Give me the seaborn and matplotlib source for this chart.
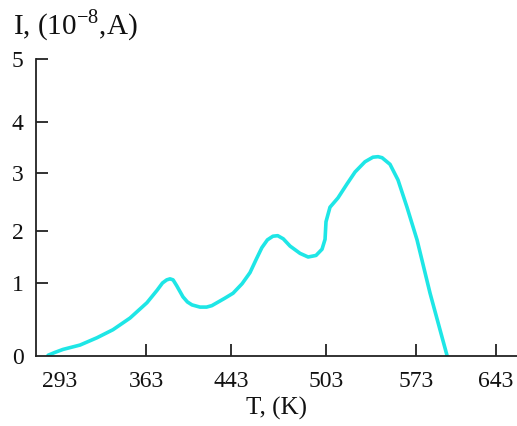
import numpy as np
import pandas as pd
import seaborn as sns
import matplotlib.pyplot as plt

# 数据：温度 T (K) 与电流 I (10^-8 A)
T = [283.3, 289.0, 295.4, 309.3, 323.1, 336.1, 350.0, 363.9, 373.4, 378.5,
     382.5, 385.6, 388.5, 392.0, 397.8, 402.0, 406.3, 413.8, 420.0, 425.0,
     429.8, 437.0, 444.3, 450.0, 455.0, 459.0, 462.5, 466.0, 469.5, 472.5,
     476.0, 480.3, 486.6, 491.7, 496.7, 500.5, 502.4, 503.0, 506.1, 512.3,
     519.3, 525.6, 533.3, 539.5, 543.5, 546.6, 552.8, 559.0, 566.0, 573.9,
     585.3, 594.0, 600.1]
I = [0.01, 0.05, 0.09, 0.15, 0.25, 0.36, 0.52, 0.73, 0.90, 1.00,
     1.06, 1.08, 1.06, 0.96, 0.81, 0.74, 0.70, 0.67, 0.67, 0.69,
     0.73, 0.79, 0.86, 0.99, 1.20, 1.46, 1.68, 1.83, 1.90, 1.91,
     1.85, 1.71, 1.57, 1.50, 1.53, 1.65, 1.84, 2.16, 2.41, 2.57,
     2.81, 3.02, 3.22, 3.31, 3.32, 3.30, 3.17, 2.88, 2.41, 1.83,
     0.86, 0.36, 0.01]

x_ticks = [293, 363, 443, 503, 573, 643]
y_ticks = [0, 1, 2, 3, 4, 5]

df = pd.DataFrame({'T': T, 'I': I})

# 原图坐标轴刻度不等距，用分段线性刻度还原
tx_knots = [273.5, 293, 363, 443, 503, 573, 643, 661]
px_knots = [0, 24, 110, 195, 290, 380, 460, 481]
iy_knots = [0, 1, 2, 3, 4, 5]
py_knots = [0, 73, 125, 183, 234, 297]

sns.set_style('white')
plt.rcParams['font.family'] = ['Liberation Serif', 'DejaVu Serif']
plt.rcParams['mathtext.fontset'] = 'custom'
plt.rcParams['mathtext.rm'] = 'Liberation Serif'

fig = plt.figure(figsize=(5.17, 4.26), dpi=100)
ax = fig.add_axes([36 / 517, 1 - 356 / 426, 481 / 517, 297 / 426])

ax.set_xscale('function', functions=(lambda v: np.interp(v, tx_knots, px_knots),
                                     lambda v: np.interp(v, px_knots, tx_knots)))
ax.set_yscale('function', functions=(lambda v: np.interp(v, iy_knots, py_knots),
                                     lambda v: np.interp(v, py_knots, iy_knots)))

sns.lineplot(data=df, x='T', y='I', color='#1ee6e6', linewidth=2.6, ax=ax)

ax.set_xlim(273.5, 661)
ax.set_ylim(0, 5)
ax.set_xticks(x_ticks)
ax.set_xticklabels([str(v) for v in x_ticks])
ax.set_yticks(y_ticks)
ax.set_yticklabels([str(v) for v in y_ticks])

ax.tick_params(axis='both', direction='in', length=8.5, width=1.3, color='#222222',
               labelsize=17, labelcolor='#111111', bottom=True, left=True)
ax.tick_params(axis='x', pad=11)
ax.tick_params(axis='y', pad=9)
ax.xaxis.get_major_ticks()[0].tick1line.set_visible(False)
ax.yaxis.get_major_ticks()[0].tick1line.set_visible(False)

for s in ['top', 'right']:
    ax.spines[s].set_visible(False)
for s in ['left', 'bottom']:
    ax.spines[s].set_color('#222222')
    ax.spines[s].set_linewidth(1.3)

ax.set_xlabel('T, (K)', fontsize=18, color='#111111', labelpad=3)
ax.set_ylabel('')

fig.text(13 / 517, 1 - 34 / 426, r'I, (10$^{\mathrm{-8}}$,A)', fontsize=21,
         color='#111111', va='baseline', ha='left')

plt.savefig('out.png', dpi=100)
